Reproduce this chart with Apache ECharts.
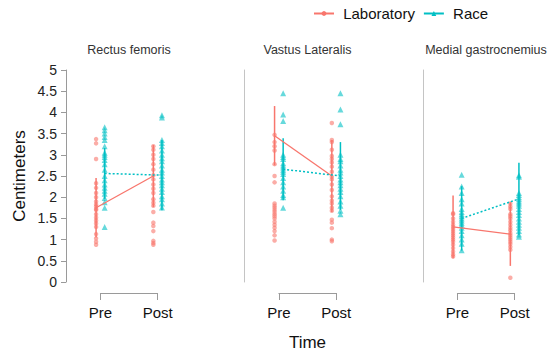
<!DOCTYPE html>
<html>
<head>
<meta charset="utf-8">
<script src="https://cdn.jsdelivr.net/npm/echarts@6/dist/echarts.min.js"></script>
<style>html,body{margin:0;padding:0;background:#fff;}#c{width:550px;height:354px;}</style>
</head>
<body>
<div id="c"></div>
<script>
// ---- data ----
const CATEGORIES = ['Pre', 'Post'];
const PANELS = ['Rectus femoris', 'Vastus Lateralis', 'Medial gastrocnemius'];
const SERIES_NAMES = ['Laboratory', 'Race'];

// Rectus femoris
const rfLabPre   = [3.37, 3.27, 2.9, 2.33, 2.22, 2.1, 2.0, 1.9, 1.83, 1.78, 1.72, 1.7, 1.6, 1.52, 1.45, 1.38, 1.3, 1.13, 1.03, 0.95, 0.88];
const rfLabPost  = [3.2, 3.12, 3.0, 2.9, 2.78, 2.65, 2.52, 2.42, 2.3, 2.2, 2.1, 1.95, 1.87, 1.8, 1.65, 1.4, 1.32, 1.2, 0.97, 0.92, 0.88];
const rfRacePre  = [3.65, 3.58, 3.5, 3.42, 3.35, 3.2, 3.05, 3.0, 2.95, 2.88, 2.78, 2.65, 2.5, 2.4, 2.3, 2.22, 2.15, 2.08, 1.98, 1.88, 1.75, 1.3];
const rfRacePost = [3.93, 3.88, 3.35, 3.28, 3.2, 3.1, 3.0, 2.92, 2.85, 2.75, 2.65, 2.58, 2.5, 2.42, 2.35, 2.28, 2.2, 2.12, 2.02, 1.95, 1.85, 1.76];
const rfLabMean  = [1.75, 2.5];
const rfRaceMean = [2.56, 2.52];
const rfLabSD    = [0.7, 0.73];
const rfRaceSD   = [0.6, 0.83];

// Vastus Lateralis
const vlLabPre   = [3.47, 3.3, 3.2, 3.1, 2.78, 2.5, 2.35, 1.85, 1.8, 1.75, 1.7, 1.65, 1.6, 1.55, 1.5, 1.42, 1.35, 1.28, 1.2, 1.1, 0.98];
const vlLabPost  = [3.75, 3.35, 3.3, 3.12, 2.97, 2.9, 2.82, 2.72, 2.6, 2.48, 2.42, 2.3, 2.17, 2.02, 1.92, 1.85, 1.75, 1.68, 1.47, 1.4, 1.27, 1.0, 0.96];
const vlRacePre  = [4.45, 3.95, 3.8, 3.0, 2.95, 2.9, 2.8, 2.75, 2.7, 2.65, 2.6, 2.55, 2.45, 2.35, 2.25, 2.15, 2.05, 2.0, 1.75];
const vlRacePost = [4.45, 4.07, 3.72, 3.0, 2.9, 2.85, 2.75, 2.65, 2.58, 2.5, 2.42, 2.35, 2.28, 2.2, 2.12, 2.02, 1.9, 1.8, 1.68, 1.6];
const vlLabMean  = [3.45, 2.5];
const vlRaceMean = [2.66, 2.5];
const vlLabSD    = [0.7, 0.85];
const vlRaceSD   = [0.73, 0.8];

// Medial gastrocnemius
const mgLabPre   = [1.62, 1.6, 1.5, 1.42, 1.35, 1.3, 1.25, 1.2, 1.15, 1.1, 1.05, 1.0, 0.95, 0.88, 0.8, 0.72, 0.65, 0.6];
const mgLabPost  = [1.85, 1.78, 1.72, 1.6, 1.55, 1.5, 1.42, 1.35, 1.28, 1.22, 1.15, 1.1, 1.05, 1.0, 0.95, 0.9, 0.83, 0.76, 0.1];
const mgRacePre  = [2.53, 2.25, 2.1, 1.95, 1.85, 1.72, 1.65, 1.6, 1.55, 1.5, 1.45, 1.4, 1.35, 1.28, 1.2, 1.1, 1.0, 0.9, 0.75];
const mgRacePost = [2.52, 2.48, 2.1, 2.05, 2.0, 1.95, 1.9, 1.85, 1.8, 1.72, 1.65, 1.58, 1.5, 1.42, 1.35, 1.28, 1.2, 1.12, 1.07];
const mgLabMean  = [1.3, 1.13];
const mgRaceMean = [1.5, 1.96];
const mgLabSD    = [0.74, 0.75];
const mgRaceSD   = [0.76, 0.85];

const Y_MIN = 0, Y_MAX = 5, Y_STEP = 0.5;

// ---- assembly ----
const panelData = [
  {lab:[rfLabPre, rfLabPost], race:[rfRacePre, rfRacePost], labMean:rfLabMean, raceMean:rfRaceMean, labSD:rfLabSD, raceSD:rfRaceSD},
  {lab:[vlLabPre, vlLabPost], race:[vlRacePre, vlRacePost], labMean:vlLabMean, raceMean:vlRaceMean, labSD:vlLabSD, raceSD:vlRaceSD},
  {lab:[mgLabPre, mgLabPost], race:[mgRacePre, mgRacePost], labMean:mgLabMean, raceMean:mgRaceMean, labSD:mgLabSD, raceSD:mgRaceSD}
];

const LAB_COLOR = '#F8766D', RACE_COLOR = '#00BFC4';
const DODGE = 0.075;
const X_MIN = 0.4, X_MAX = 2.6;
const P_LEFT = 66, P_PITCH = 178.5, P_W = 126, P_TOP = 70, P_H = 212;
const pxPerUnit = P_W / (X_MAX - X_MIN);

const grids = [], xAxes = [], yAxes = [], series = [], graphics = [];

// legend-only series (icons)
series.push({type:'line', name:'Laboratory', data:[], xAxisIndex:0, yAxisIndex:0, symbol:'circle',
  lineStyle:{color:LAB_COLOR, width:1.5}, itemStyle:{color:LAB_COLOR}});
series.push({type:'line', name:'Race', data:[], xAxisIndex:0, yAxisIndex:0, symbol:'triangle',
  lineStyle:{color:RACE_COLOR, width:1.5}, itemStyle:{color:RACE_COLOR}});

function errRender(color) {
  return function (params, api) {
    const a = api.coord([api.value(0), api.value(1)]);
    const b = api.coord([api.value(0), api.value(2)]);
    return {type:'line', shape:{x1:a[0], y1:a[1], x2:b[0], y2:b[1]}, style:{stroke:color, lineWidth:1.5}};
  };
}

panelData.forEach((pd, i) => {
  const left = P_LEFT + P_PITCH * i;
  grids.push({left:left, top:P_TOP, width:P_W, height:P_H});
  xAxes.push({type:'value', gridIndex:i, min:X_MIN, max:X_MAX, show:false});
  yAxes.push({type:'value', gridIndex:i, min:Y_MIN, max:Y_MAX, interval:Y_STEP,
    splitLine:{show:false},
    axisLine:{show:true, lineStyle:{color: i === 0 ? '#9a9a9a' : '#c4c4c4', width:1}},
    axisTick:{show: i === 0, length:5, lineStyle:{color:'#9a9a9a'}},
    axisLabel:{show: i === 0, fontSize:14, color:'#222', margin:9, fontFamily:'Liberation Sans, Arial, sans-serif'},
    name: i === 0 ? 'Centimeters' : '', nameLocation:'middle', nameGap:38, nameRotate:90,
    nameTextStyle:{fontSize:17, color:'#111', fontFamily:'Liberation Sans, Arial, sans-serif'}
  });

  const labPts = [], racePts = [];
  CATEGORIES.forEach((c, k) => {
    pd.lab[k].forEach(v => labPts.push([k + 1 - DODGE, v]));
    pd.race[k].forEach(v => racePts.push([k + 1 + DODGE, v]));
  });
  series.push({type:'scatter', name:'Laboratory', xAxisIndex:i, yAxisIndex:i, data:labPts,
    symbol:'circle', symbolSize:4.5, itemStyle:{color:LAB_COLOR, opacity:0.6}, silent:true});
  series.push({type:'scatter', name:'Race', xAxisIndex:i, yAxisIndex:i, data:racePts,
    symbol:'triangle', symbolSize:6, itemStyle:{color:RACE_COLOR, opacity:0.6}, silent:true});

  series.push({type:'custom', name:'Laboratory', xAxisIndex:i, yAxisIndex:i, renderItem:errRender(LAB_COLOR),
    encode:{x:0, y:[1,2]},
    data: CATEGORIES.map((c, k) => [k + 1 - DODGE, pd.labMean[k] - pd.labSD[k], pd.labMean[k] + pd.labSD[k]])});
  series.push({type:'custom', name:'Race', xAxisIndex:i, yAxisIndex:i, renderItem:errRender(RACE_COLOR),
    encode:{x:0, y:[1,2]},
    data: CATEGORIES.map((c, k) => [k + 1 + DODGE, pd.raceMean[k] - pd.raceSD[k], pd.raceMean[k] + pd.raceSD[k]])});

  series.push({type:'line', name:'Laboratory', xAxisIndex:i, yAxisIndex:i, symbol:'none',
    lineStyle:{color:LAB_COLOR, width:1.3}, data: CATEGORIES.map((c, k) => [k + 1 - DODGE, pd.labMean[k]])});
  series.push({type:'line', name:'Race', xAxisIndex:i, yAxisIndex:i, symbol:'none',
    lineStyle:{color:RACE_COLOR, width:1.5, type:[2,2]}, data: CATEGORIES.map((c, k) => [k + 1 + DODGE, pd.raceMean[k]])});

  graphics.push({type:'text', x: left + P_W / 2, y: 50,
    style:{text: PANELS[i], textAlign:'center', textVerticalAlign:'middle', fontSize:12.5, fill:'#333',
      fontFamily:'Liberation Sans, Arial, sans-serif'}});
});

// bracket axes (Pre / Post)
panelData.forEach((pd, i) => {
  const left = P_LEFT + P_PITCH * i + (1 - X_MIN) * pxPerUnit;
  const gi = 3 + i;
  grids.push({left:left, top:292, width:pxPerUnit, height:1});
  xAxes.push({type:'value', gridIndex:gi, min:1, max:2, interval:1, position:'bottom',
    splitLine:{show:false},
    axisLine:{show:true, lineStyle:{color:'#9a9a9a'}},
    axisTick:{show:true, length:7, lineStyle:{color:'#9a9a9a'}},
    axisLabel:{show:true, margin:12, fontSize:15, color:'#111', fontFamily:'Liberation Sans, Arial, sans-serif',
      formatter: v => CATEGORIES[Math.round(v) - 1] || ''}
  });
  yAxes.push({type:'value', gridIndex:gi, show:false, min:0, max:1});
});

graphics.push({type:'text', x: P_LEFT + P_PITCH + P_W / 2, y: 342,
  style:{text:'Time', textAlign:'center', textVerticalAlign:'middle', fontSize:17, fill:'#111',
    fontFamily:'Liberation Sans, Arial, sans-serif'}});

const chart = echarts.init(document.getElementById('c'), null, {renderer:'svg'});
chart.setOption({
  animation:false,
  backgroundColor:'#fff',
  legend:{data:SERIES_NAMES, left:308, top:1, itemWidth:20, itemHeight:6, itemGap:8,
    formatter: n => ' ' + n,
    textStyle:{fontSize:15, color:'#111', fontFamily:'Liberation Sans, Arial, sans-serif'}},
  grid:grids, xAxis:xAxes, yAxis:yAxes, series:series, graphic:graphics
});
</script>
</body>
</html>
